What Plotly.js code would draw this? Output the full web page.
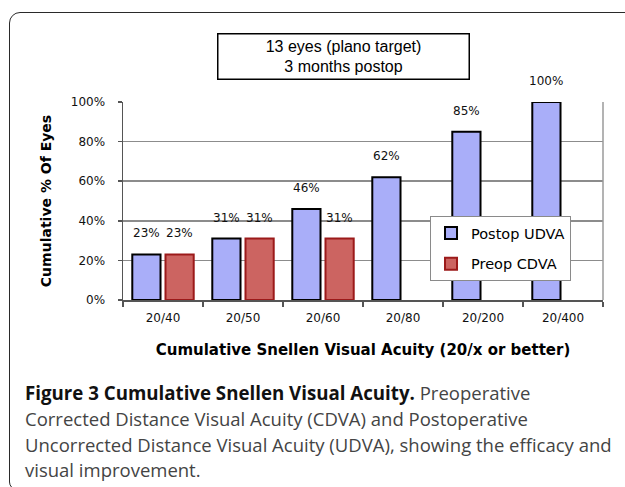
<!DOCTYPE html>
<html>
<head>
<meta charset="utf-8">
<script src="https://cdn.plot.ly/plotly-3.0.1.min.js"></script>
<style>
  html, body { margin: 0; padding: 0; background: #fff; overflow: hidden; }
  #wrap { position: relative; width: 625px; height: 487px; overflow: hidden; background: #fff; }
  #frame { position: absolute; left: 9px; top: 12px; width: 700px; height: 478px;
           border: 1.5px solid #2a2a2a; border-top-left-radius: 11px; border-bottom-left-radius: 8px; box-sizing: border-box; }
  #chart { position: absolute; left: 0; top: 0; width: 625px; height: 487px; }
  #caption { position: absolute; left: 25px; top: 380px; font-family: "Open Sans", sans-serif;
             font-size: 18.5px; line-height: 25.8px; color: #444; white-space: nowrap; }
  #caption b { color: #111; font-weight: 700; font-size: 18.7px; }
</style>
</head>
<body>
<div id="wrap">
  <div id="frame"></div>
  <div id="chart"></div>
  <div id="caption"><b>Figure 3 Cumulative Snellen Visual Acuity.</b> Preoperative<br>Corrected Distance Visual Acuity (CDVA) and Postoperative<br>Uncorrected Distance Visual Acuity (UDVA), showing the efficacy and<br>visual improvement.</div>
</div>
<script>
const categories = ['20/40', '20/50', '20/60', '20/80', '20/200', '20/400'];
const postopUDVA = [23, 31, 46, 62, 85, 100];
const preopCDVA = [23, 31, 31, null, null, null];
const seriesNames = ['Postop UDVA', 'Preop CDVA'];
const yTickVals = [0, 20, 40, 60, 80, 100];
const yTickText = ['0%', '20%', '40%', '60%', '80%', '100%'];
const chartTitle = '13 eyes (plano target)<br>3 months postop';
const xTitle = 'Cumulative Snellen Visual Acuity (20/x or better)';
const yTitle = 'Cumulative % Of Eyes';

const chartFont = 'DejaVu Sans, Verdana, sans-serif';

const traces = [
  {
    type: 'bar', name: seriesNames[0], x: categories, y: postopUDVA,
    marker: { color: '#a9aef9', line: { color: '#000000', width: 2 } },
    legendgroup: 'a', hoverinfo: 'skip'
  },
  {
    type: 'bar', name: seriesNames[1], x: categories, y: preopCDVA,
    marker: { color: '#cc6461', line: { color: '#9c1a1a', width: 2 } },
    legendgroup: 'b', hoverinfo: 'skip'
  }
];

const annotations = [];
const seriesVals = [postopUDVA, preopCDVA];
const shifts = [-16.6, 16.6];
seriesVals.forEach((vals, s) => {
  vals.forEach((v, i) => {
    if (v === null) return;
    annotations.push({
      xref: 'x', yref: 'y', x: categories[i], y: v, text: v + '%',
      showarrow: false, xanchor: 'center', yanchor: 'bottom',
      xshift: shifts[s], yshift: 12,
      font: { family: chartFont, size: 12, color: '#111' }
    });
  });
});
annotations.push({
  xref: 'paper', yref: 'paper', x: 0.4604, y: 1.2273, xanchor: 'center', yanchor: 'middle',
  text: chartTitle, showarrow: false, align: 'center',
  width: 250, height: 44, borderwidth: 1.5, bordercolor: '#000', bgcolor: '#fff', borderpad: 0,
  font: { family: 'Liberation Sans, Arial, sans-serif', size: 16, color: '#000' }
});

const layout = {
  width: 625, height: 487,
  margin: { l: 123, r: 22, t: 102, b: 187 },
  paper_bgcolor: 'rgba(0,0,0,0)', plot_bgcolor: '#fff',
  barmode: 'group', bargap: 0.17, bargroupgap: 0.15,
  showlegend: true,
  legend: {
    x: 0.6396, y: 0.4242, xanchor: 'left', yanchor: 'top',
    bgcolor: '#fff', bordercolor: '#8a8a8a', borderwidth: 1,
    font: { family: chartFont, size: 14.5, color: '#000' },
    tracegroupgap: 9, itemwidth: 30
  },
  xaxis: {
    type: 'category', showline: true, linecolor: '#555', linewidth: 1.5,
    ticks: 'outside', ticklen: 5, tickcolor: '#555', tickson: 'boundaries', tickwidth: 1.5,
    showgrid: false, ticklabelstandoff: 6,
    tickfont: { family: chartFont, size: 12, color: '#111' },
    title: { text: xTitle, standoff: 20, font: { family: chartFont, size: 15, color: '#000', weight: 'bold' } }
  },
  yaxis: {
    range: [0, 100], tickvals: yTickVals, ticktext: yTickText,
    showline: true, linecolor: '#555', linewidth: 1.5,
    ticks: 'outside', ticklen: 4, tickcolor: '#555', tickwidth: 1.5,
    showgrid: true, gridcolor: '#8c8c8c', gridwidth: 1.5, zeroline: false,
    ticklabelstandoff: 10,
    tickfont: { family: chartFont, size: 12, color: '#111' },
    title: { text: yTitle, standoff: 16, font: { family: chartFont, size: 14, color: '#000', weight: 'bold' } }
  },
  shapes: [
    { type: 'line', xref: 'paper', yref: 'paper', x0: 1, x1: 1, y0: 0, y1: 1, line: { color: '#9a9a9a', width: 1.5 } }
  ],
  annotations: annotations
};

Plotly.newPlot('chart', traces, layout, { staticPlot: true, displayModeBar: false });
</script>
</body>
</html>
